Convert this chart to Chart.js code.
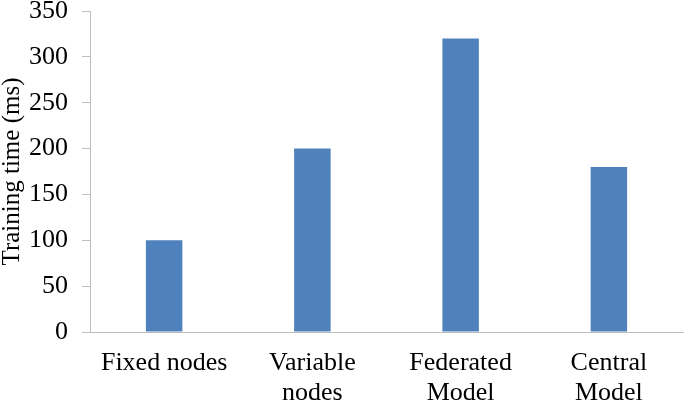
<!DOCTYPE html>
<html>
<head>
<meta charset="utf-8">
<script src="https://cdn.jsdelivr.net/npm/chart.js@4"></script>
<style>
  html, body { margin: 0; padding: 0; background: #fff; }
  #wrap { width: 685px; height: 402px; }
</style>
</head>
<body>
<div id="wrap"><canvas id="chart"></canvas></div>
<script>
// chart data
const categories = [["Fixed nodes"], ["Variable", "nodes"], ["Federated", "Model"], ["Central", "Model"]];
const trainingTime = [100, 200, 320, 180];
const yTicks = [0, 50, 100, 150, 200, 250, 300, 350];

const axisGrey = "#BFBFBF";
const serif = "'Liberation Serif', 'Times New Roman', serif";

new Chart(document.getElementById("chart"), {
  type: "bar",
  data: {
    labels: categories,
    datasets: [
      {
        label: "Training time",
        data: trainingTime,
        backgroundColor: "#4F81BD",
        borderWidth: 0,
        categoryPercentage: 1,
        barPercentage: 0.246
      }
    ]
  },
  options: {
    responsive: true,
    maintainAspectRatio: false,
    animation: false,
    layout: { padding: { top: 0, right: 2, left: 0, bottom: 0 } },
    plugins: {
      legend: { display: false },
      tooltip: { enabled: false }
    },
    scales: {
      x: {
        grid: { display: false, drawTicks: false },
        border: { display: true, color: axisGrey, width: 1 },
        ticks: {
          color: "#000",
          font: { family: serif, size: 26, lineHeight: 1.15 },
          padding: 16,
          maxRotation: 0,
          autoSkip: false
        },
        afterFit(scale) { scale.height = 70; }
      },
      y: {
        min: 0,
        max: 350,
        afterBuildTicks(scale) {
          scale.ticks = yTicks.map((v) => ({ value: v }));
        },
        grid: {
          drawOnChartArea: false,
          drawTicks: true,
          tickLength: 8,
          color: axisGrey
        },
        border: { display: true, color: axisGrey, width: 1 },
        ticks: {
          color: "#000",
          font: { family: serif, size: 26 },
          padding: 14
        },
        title: {
          display: true,
          text: "Training time (ms)",
          color: "#000",
          font: { family: serif, size: 25, lineHeight: 1.0 },
          padding: 0
        },
        afterFit(scale) {
          scale.width = 90;
          scale.paddingTop = 11;
          scale.paddingBottom = 11;
        }
      }
    }
  }
});
</script>
</body>
</html>
